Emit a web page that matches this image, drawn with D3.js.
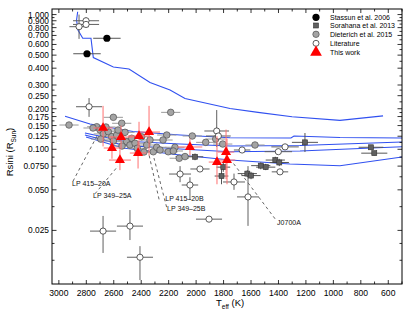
<!DOCTYPE html>
<html><head><meta charset="utf-8">
<script src="https://cdn.jsdelivr.net/npm/d3@7"></script>
<style>body{margin:0;background:#fff}svg{display:block}text{font-family:"Liberation Sans",Arial,sans-serif}</style>
</head><body><svg id="c" width="407" height="313"></svg>
<script>
// ---- data ----
const xTicksMajor = [3000,2800,2600,2400,2200,2000,1800,1600,1400,1200,1000,800,600];
const yTickValues = [1.0,0.9,0.8,0.7,0.6,0.5,0.4,0.3,0.25,0.2,0.175,0.15,0.125,0.1,0.075,0.05,0.025];
const yTickLabels = ["1.000","0.900","0.800","0.700","0.600","0.500","0.400","0.300","0.250","0.200","0.175","0.150","0.125","0.100","0.0750","0.050","0.025"];
const legendLabels = ["Stassun et al. 2006","Sorahana et al. 2013","Dieterich et al. 2015","Literature","This work"];

// [Teff, R, Teff err, Rlow, Rhigh]
const stassun = [[2650,0.667,100,0.65,0.685],[2795,0.512,100,0.5,0.525]];
const sorahana = [[2008,0.088,60,0.083,0.093],[1815,0.0633,50,0.055,0.075],[1802,0.0737,50,0.068,0.08],[1627,0.066,70,0.062,0.07],[1600,0.0638,70,0.06,0.068],
  [1529,0.0756,70,0.071,0.08],[1493,0.0737,70,0.07,0.078],[1423,0.0832,70,0.079,0.088],[1394,0.0798,70,0.075,0.085],[1207,0.1126,95,0.0954,0.1321],[726,0.1035,90,0.1,0.107],[702,0.0936,95,0.09,0.097]];
const literature = [[2802,0.90,95,0.85,0.95],[2802,0.845,95,0.8,0.9],[2853,0.813,70,0.66,1.0],[2780,0.207,95,0.174,0.240],[2678,0.0247,95,0.017,0.032],
  [2482,0.0269,95,0.0212,0.0354],[2409,0.0158,95,0.0107,0.0191],[1906,0.0303,95,0.0295,0.031],[1622,0.0443,80,0.027,0.075],[1850,0.1367,90,0.104,0.1956],
  [1838,0.1255,90,0.12,0.131],[2117,0.0655,80,0.057,0.075],[1972,0.0714,70,0.069,0.074],[2045,0.0543,60,0.042,0.062],[1724,0.0572,80,0.05,0.066],
  [1665,0.0988,60,0.095,0.102],[1352,0.1042,100,0.1,0.108],[1401,0.096,100,0.093,0.099],[1389,0.068,60,0.066,0.07]];
const dieterich = [[2926,0.1514],[2724,0.147],[2700,0.139],[2676,0.130],[2695,0.119],[2640,0.135],[2615,0.124],[2579,0.1276],[2603,0.1152],[2603,0.1727],
  [2542,0.156],[2518,0.1336],[2506,0.1138],[2482,0.1076],[2469,0.1207],[2445,0.1109],[2429,0.1017],[2397,0.1238],[2360,0.1076],[2336,0.1172],
  [2312,0.0959],[2287,0.1035],[2214,0.1276],[2203,0.0959],[2154,0.1035],[2185,0.188],[2028,0.1255],[1930,0.1126],[1857,0.1192],[1806,0.1094],
  [1571,0.1076],[2166,0.0971],[2123,0.0858],[2081,0.0883],[2751,0.1439],[2657,0.1463],[2569,0.139],[2540,0.1058],[2380,0.0954],[2263,0.0988],[2241,0.1172]];
const thisWork = [[2678,0.144,70,0.105,0.21],[2613,0.1022,60,0.085,0.125],[2547,0.1233,90,0.10,0.15],[2555,0.0832,80,0.07,0.10],[2416,0.1255,80,0.095,0.16],
  [2343,0.1343,80,0.09,0.21],[2423,0.0938,60,0.072,0.115],[2045,0.104,90,0.09,0.12],[1848,0.0804,60,0.055,0.125],[1782,0.0954,60,0.06,0.14],[1775,0.0832,60,0.055,0.12]];

const curve1 = [[2863,1.05],[2871,0.911],[2861,0.768],[2826,0.667],[2766,0.667],[2749,0.480],[2603,0.408],[2489,0.394],[2336,0.313],[2190,0.275],[2081,0.238],[1753,0.201],[1549,0.188],[1301,0.1746],[952,0.164],[638,0.177]];
const curve2 = [[2955,0.176],[2773,0.154],[2460,0.1355],[2117,0.1276],[1753,0.1219],[1309,0.1213],[1287,0.1255],[952,0.1223],[500,0.1213]];
const curve3 = [[2810,0.1321],[2533,0.1152],[2117,0.1094],[1753,0.1058],[1243,0.1067],[500,0.1132]];
const curve4 = [[2810,0.1276],[2533,0.1074],[2117,0.1005],[1753,0.096],[1243,0.0971],[500,0.1044]];
const curve5 = [[2802,0.1233],[2533,0.1022],[2117,0.0907],[1753,0.0832],[1316,0.0778],[952,0.0755],[500,0.0876]];

// [label, labelTeff, labelR, lineStartTeff, lineStartR, lineEndTeff, lineEndR]
const annotations = [
  ["LP 415–20A",2904,0.0535,2897,0.058,2722,0.1255],
  ["LP 349–25A",2751,0.0437,2737,0.0467,2569,0.0751],
  ["LP 415–20B",2225,0.0412,2270,0.0425,2351,0.0988],
  ["LP 349–25B",2212,0.0347,2215,0.0372,2307,0.0861],
  ["J0700A",1410,0.0276,1425,0.0305,1730,0.0790]
];

// ---- chart ----
const svg = d3.select("#c");
const L=52,R=402,T=9,B=284;
const x = d3.scaleLinear().domain([3050,500]).range([L,R]);
const y = d3.scaleLog().domain([0.01,1.1]).range([B,T]);
const g = svg.append("g");
const line = d3.line().x(d=>x(d[0])).y(d=>y(d[1]));
g.append("defs").append("clipPath").attr("id","cp").append("rect").attr("x",L).attr("y",T).attr("width",R-L).attr("height",B-T);
const plot = g.append("g").attr("clip-path","url(#cp)");

[curve1,curve2,curve3,curve4,curve5].forEach(c=>{
  plot.append("path").attr("d",line(c)).attr("fill","none").attr("stroke","#3050f0").attr("stroke-width",1.1);
});

// annotation dashed lines
annotations.forEach(a=>{
  plot.append("line").attr("x1",x(a[3])).attr("y1",y(a[4])).attr("x2",x(a[5])).attr("y2",y(a[6]))
    .attr("stroke","#222").attr("stroke-width",0.7).attr("stroke-dasharray","3,3");
  g.append("text").attr("x",x(a[1])).attr("y",y(a[2])).attr("font-size",7).attr("fill","#111").text(a[0]);
});

function errbars(data,color,w){
  data.forEach(d=>{
    if(d.length<3) return;
    plot.append("line").attr("x1",x(d[0]-d[2])).attr("x2",x(d[0]+d[2])).attr("y1",y(d[1])).attr("y2",y(d[1])).attr("stroke",color).attr("stroke-width",w);
    plot.append("line").attr("x1",x(d[0])).attr("x2",x(d[0])).attr("y1",y(d[3])).attr("y2",y(d[4])).attr("stroke",color).attr("stroke-width",w);
  });
}
const dieterichErr = dieterich.map(d=>[d[0],d[1],70,d[1]*0.97,d[1]*1.03]);
errbars(dieterichErr,"#9a9a9a",1);
errbars(literature,"#606060",1);
errbars(sorahana,"#555",1);
errbars(stassun,"#555",1);

plot.selectAll(".dt").data(dieterich).enter().append("circle").attr("cx",d=>x(d[0])).attr("cy",d=>y(d[1])).attr("r",3.3)
  .attr("fill","#a4a4a4").attr("stroke","#505050").attr("stroke-width",0.7);
plot.selectAll(".lt").data(literature).enter().append("circle").attr("cx",d=>x(d[0])).attr("cy",d=>y(d[1])).attr("r",3.1)
  .attr("fill","#fff").attr("stroke","#333").attr("stroke-width",0.8);
plot.selectAll(".sq").data(sorahana).enter().append("rect").attr("x",d=>x(d[0])-2.5).attr("y",d=>y(d[1])-2.5).attr("width",5).attr("height",5)
  .attr("fill","#606060").attr("stroke","#333").attr("stroke-width",0.6);
plot.selectAll(".st").data(stassun).enter().append("circle").attr("cx",d=>x(d[0])).attr("cy",d=>y(d[1])).attr("r",3.6).attr("fill","#000");

errbars(thisWork,"#ff7070",1);
const tri = d3.symbol().type(d3.symbolTriangle).size(44);
plot.selectAll(".tw").data(thisWork).enter().append("path").attr("d",tri).attr("transform",d=>`translate(${x(d[0])},${y(d[1])})`).attr("fill","#ff0000");

// frame & ticks
g.append("rect").attr("x",L).attr("y",T).attr("width",R-L).attr("height",B-T).attr("fill","none").attr("stroke","#000").attr("stroke-width",1);
const minorX = d3.range(3000,499,-100);
minorX.forEach(v=>{
  const len = xTicksMajor.includes(v)?4:2.5;
  g.append("line").attr("x1",x(v)).attr("x2",x(v)).attr("y1",B).attr("y2",B-len).attr("stroke","#000").attr("stroke-width",0.8);
  g.append("line").attr("x1",x(v)).attr("x2",x(v)).attr("y1",T).attr("y2",T+len).attr("stroke","#000").attr("stroke-width",0.8);
});
xTicksMajor.forEach(v=>{
  g.append("text").attr("x",x(v)).attr("y",295.5).attr("text-anchor","middle").attr("font-size",8.6).attr("fill","#000").text(v);
});
const minorY = [0.95,0.85,0.75,0.65,0.55,0.45,0.35,0.275,0.225,0.1875,0.1625,0.1375,0.1125,0.0875,0.0625,0.0375,0.02,0.015];
minorY.forEach(v=>{
  g.append("line").attr("x1",L).attr("x2",L+2.5).attr("y1",y(v)).attr("y2",y(v)).attr("stroke","#000").attr("stroke-width",0.8);
  g.append("line").attr("x1",R).attr("x2",R-2.5).attr("y1",y(v)).attr("y2",y(v)).attr("stroke","#000").attr("stroke-width",0.8);
});
yTickValues.forEach((v,i)=>{
  g.append("line").attr("x1",L).attr("x2",L+4.5).attr("y1",y(v)).attr("y2",y(v)).attr("stroke","#000").attr("stroke-width",0.8);
  g.append("line").attr("x1",R).attr("x2",R-4.5).attr("y1",y(v)).attr("y2",y(v)).attr("stroke","#000").attr("stroke-width",0.8);
  g.append("text").attr("x",L-3).attr("y",y(v)+3).attr("text-anchor","end").attr("font-size",8.4).attr("fill","#000").text(yTickLabels[i]);
});

// axis titles
const xt = g.append("text").attr("x",216).attr("y",305.5).attr("font-size",9.5).attr("fill","#000");
xt.append("tspan").text("T");
xt.append("tspan").attr("font-size",6.5).attr("dy",3).text("eff");
xt.append("tspan").attr("dy",-3).text(" (K)");
const yt = g.append("text").attr("transform","translate(13,152) rotate(-90)").attr("text-anchor","middle").attr("font-size",9.5).attr("fill","#000");
yt.append("tspan").text("Rsini (R");
yt.append("tspan").attr("font-size",6.5).attr("dy",3).text("Sun");
yt.append("tspan").attr("dy",-3).text(")");

// legend
const lg = g.append("g");
const ly = [17.3,25.5,34.3,43.3,52.3];
lg.append("circle").attr("cx",316).attr("cy",ly[0]).attr("r",3.6).attr("fill","#000");
lg.append("rect").attr("x",313.5).attr("y",ly[1]-2.5).attr("width",5).attr("height",5).attr("fill","#606060").attr("stroke","#333").attr("stroke-width",0.6);
lg.append("circle").attr("cx",316).attr("cy",ly[2]).attr("r",3.2).attr("fill","#a4a4a4").attr("stroke","#505050").attr("stroke-width",0.7);
lg.append("circle").attr("cx",316).attr("cy",ly[3]).attr("r",3).attr("fill","#fff").attr("stroke","#333").attr("stroke-width",0.8);
lg.append("path").attr("d",d3.symbol().type(d3.symbolTriangle).size(60)).attr("transform",`translate(316,${ly[4]})`).attr("fill","#ff0000");
legendLabels.forEach((t,i)=>{
  lg.append("text").attr("x",330).attr("y",ly[i]+2.5).attr("font-size",7).attr("fill","#000").text(t);
});
</script></body></html>
